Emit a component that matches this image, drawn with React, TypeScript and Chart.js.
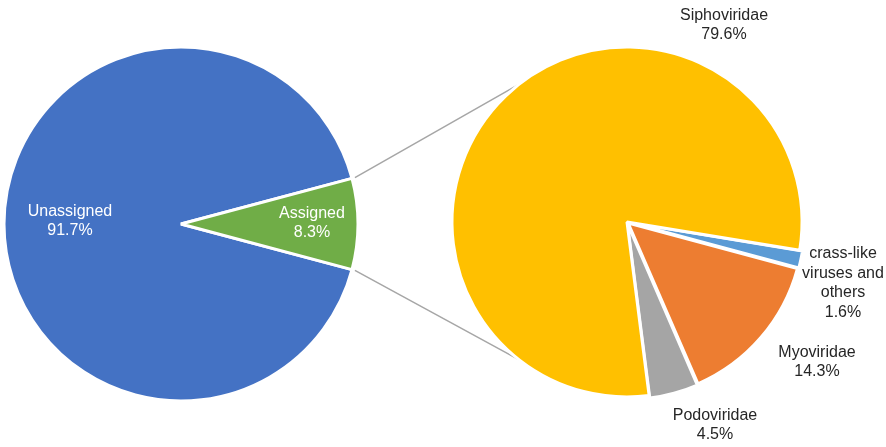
import React, { useEffect, useRef } from "react";
import { Chart, registerables } from "chart.js";
Chart.register(...registerables);

// Primary pie
const mainLabels = ["Unassigned", "Assigned"];
const mainValues = [91.7, 8.3];
const mainColors = ["#4472C4", "#70AD47"];
const mainLabelLines = [["Unassigned", "91.7%"], ["Assigned", "8.3%"]];

// Secondary pie (breakdown of "Assigned")
const subLabels = ["crass-like viruses and others", "Myoviridae", "Podoviridae", "Siphoviridae"];
const subValues = [1.6, 14.3, 4.5, 79.6];
const subColors = ["#5B9BD5", "#ED7D31", "#A5A5A5", "#FFC000"];
const subLabelLines = [
  ["crass-like", "viruses and", "others", "1.6%"],
  ["Myoviridae", "14.3%"],
  ["Podoviridae", "4.5%"],
  ["Siphoviridae", "79.6%"],
];

// layout / style (not data)
const W = 886;
const H = 447;
const MAIN_CENTER = { x: 181, y: 224 };
const MAIN_RADIUS = 177;
const SUB_CENTER = { x: 627, y: 222 };
const SUB_RADIUS = 175;
const SUB_OFFSETS = [6, 6, 6, 0];
const SUB_ROTATION = 99.3;
const CONNECTOR_ANGLE = 128; // degrees from 3 o'clock on secondary pie
const MAIN_LABEL_POS = [
  { dx: -111, dy: -3 },
  { dx: 131, dy: -1 },
];
const SUB_LABEL_POS = [
  { dx: 216, dy: 61 },
  { dx: 190, dy: 140 },
  { dx: 88, dy: 203 },
  { dx: 97, dy: -197 },
];
const FONT = '16px "Liberation Sans", Arial, sans-serif';
const LINE_H = 19.5;

function drawLabels(chart: any, lines: string[][], pos: { dx: number; dy: number }[], color: string) {
  const meta = chart.getDatasetMeta(0);
  const arc0 = meta.data[0] as any;
  if (!arc0) return;
  // pie centre (remove offset of first arc if any)
  const cx = (chart.chartArea.left + chart.chartArea.right) / 2;
  const cy = (chart.chartArea.top + chart.chartArea.bottom) / 2;
  const ctx = chart.ctx;
  ctx.save();
  ctx.font = FONT;
  ctx.fillStyle = color;
  ctx.textAlign = "center";
  ctx.textBaseline = "middle";
  lines.forEach((ls, i) => {
    const p = pos[i];
    const n = ls.length;
    ls.forEach((t, j) => {
      ctx.fillText(t, cx + p.dx, cy + p.dy + (j - (n - 1) / 2) * LINE_H);
    });
  });
  ctx.restore();
}

export default function App() {
  const mainRef = useRef<HTMLCanvasElement>(null);
  const subRef = useRef<HTMLCanvasElement>(null);

  useEffect(() => {
    document.body.style.margin = "0";
    const assignedFrac = mainValues[1] / mainValues.reduce((a, b) => a + b, 0);
    const mainChart = new Chart(mainRef.current!, {
      type: "pie",
      data: {
        labels: mainLabels,
        datasets: [
          {
            data: mainValues,
            backgroundColor: mainColors,
            borderColor: "#ffffff",
            borderWidth: 3,
          },
        ],
      },
      options: {
        responsive: false,
        animation: false,
        rotation: 90 + assignedFrac * 180,
        radius: MAIN_RADIUS,
        layout: {
          padding: {
            left: 0,
            right: W - 2 * MAIN_CENTER.x,
            top: 2 * MAIN_CENTER.y - H,
            bottom: 0,
          },
        },
        plugins: { legend: { display: false }, tooltip: { enabled: false } },
      },
      plugins: [
        {
          id: "mainLabels",
          afterDatasetsDraw(chart: any) {
            drawLabels(chart, mainLabelLines, MAIN_LABEL_POS, "#ffffff");
          },
        },
      ],
    });

    const subChart = new Chart(subRef.current!, {
      type: "pie",
      data: {
        labels: subLabels,
        datasets: [
          {
            data: subValues,
            backgroundColor: subColors,
            borderColor: "#ffffff",
            borderWidth: 3,
            offset: SUB_OFFSETS,
          },
        ],
      },
      options: {
        responsive: false,
        animation: false,
        rotation: SUB_ROTATION,
        radius: SUB_RADIUS,
        layout: {
          padding: {
            left: 2 * SUB_CENTER.x - W,
            right: 0,
            top: 0,
            bottom: H - 2 * SUB_CENTER.y,
          },
        },
        plugins: { legend: { display: false }, tooltip: { enabled: false } },
      },
      plugins: [
        {
          id: "connectors",
          beforeDatasetsDraw(chart: any) {
            const arc = mainChart.getDatasetMeta(0).data[1] as any;
            if (!arc) return;
            const cx = (chart.chartArea.left + chart.chartArea.right) / 2;
            const cy = (chart.chartArea.top + chart.chartArea.bottom) / 2;
            const ctx = chart.ctx;
            const a = (CONNECTOR_ANGLE * Math.PI) / 180;
            const r = arc.outerRadius + 3;
            const s1 = { x: arc.x + r * Math.cos(arc.startAngle), y: arc.y + r * Math.sin(arc.startAngle) };
            const s2 = { x: arc.x + r * Math.cos(arc.endAngle), y: arc.y + r * Math.sin(arc.endAngle) };
            const e1 = { x: cx + SUB_RADIUS * Math.cos(-a), y: cy + SUB_RADIUS * Math.sin(-a) };
            const e2 = { x: cx + SUB_RADIUS * Math.cos(a), y: cy + SUB_RADIUS * Math.sin(a) };
            ctx.save();
            ctx.strokeStyle = "#A6A6A6";
            ctx.lineWidth = 1.5;
            ctx.beginPath();
            ctx.moveTo(s1.x, s1.y);
            ctx.lineTo(e1.x, e1.y);
            ctx.moveTo(s2.x, s2.y);
            ctx.lineTo(e2.x, e2.y);
            ctx.stroke();
            ctx.restore();
          },
          afterDatasetsDraw(chart: any) {
            drawLabels(chart, subLabelLines, SUB_LABEL_POS, "#262626");
          },
        },
      ],
    });

    return () => {
      subChart.destroy();
      mainChart.destroy();
    };
  }, []);

  const canvasStyle: React.CSSProperties = { position: "absolute", left: 0, top: 0 };
  return (
    <div style={{ position: "fixed", left: 0, top: 0, width: W, height: H, background: "#ffffff" }}>
      <canvas ref={mainRef} width={W} height={H} style={canvasStyle} />
      <canvas ref={subRef} width={W} height={H} style={canvasStyle} />
    </div>
  );
}
